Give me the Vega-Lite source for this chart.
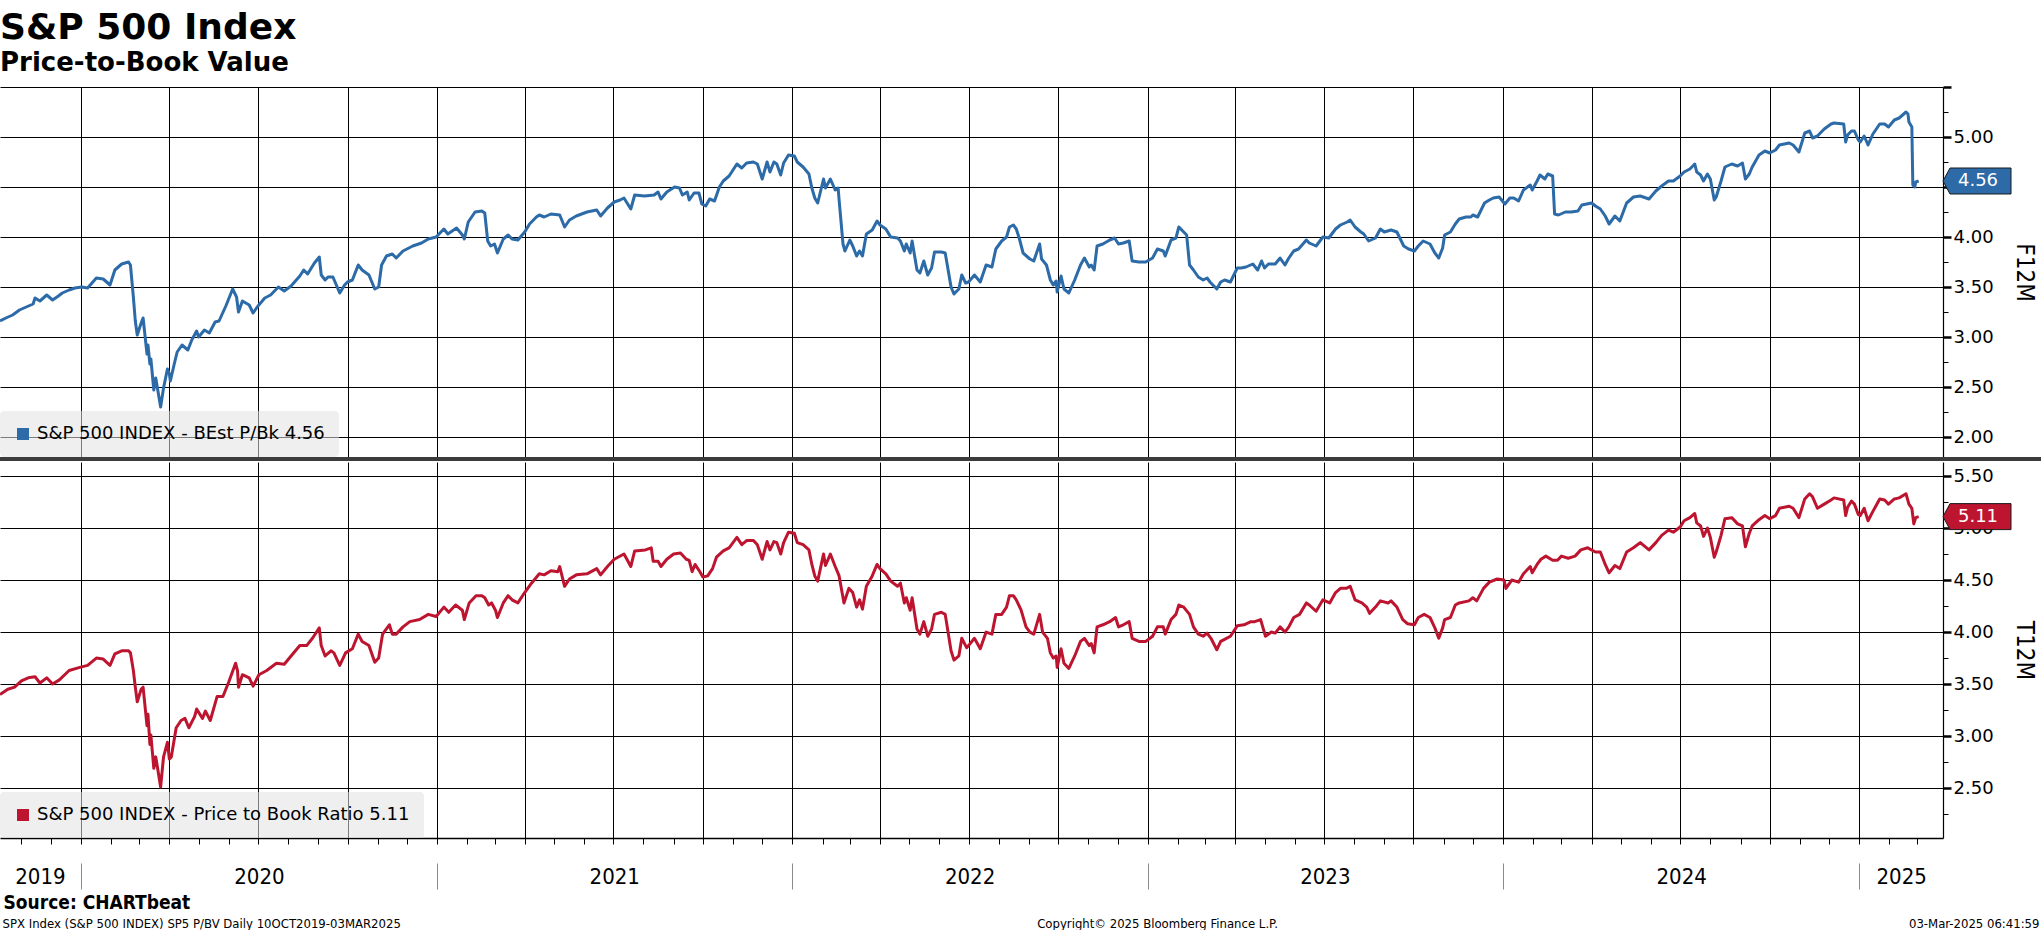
{
  "$schema": "https://vega.github.io/schema/vega-lite/v6.json",
  "background": "white",
  "padding": {"left": 0, "top": 9, "right": 0, "bottom": 0},
  "title": {
    "text": "S&P 500 Index",
    "subtitle": "Price-to-Book Value",
    "anchor": "start",
    "font": "DejaVu Sans",
    "fontSize": 36,
    "fontWeight": "bold",
    "color": "#000000",
    "subtitleFont": "DejaVu Sans",
    "subtitleFontSize": 26,
    "subtitleFontWeight": "bold",
    "subtitleColor": "#000000",
    "subtitlePadding": 3,
    "offset": 9
  },
  "datasets": {
    "pb": [
      {"date":"2019-10-10","value":3.16},{"date":"2019-10-16","value":3.19},{"date":"2019-10-23","value":3.22},{"date":"2019-10-30","value":3.27},{"date":"2019-11-06","value":3.30},{"date":"2019-11-13","value":3.33},{"date":"2019-11-15","value":3.39},{"date":"2019-11-20","value":3.36},{"date":"2019-11-27","value":3.42},{"date":"2019-12-03","value":3.37},{"date":"2019-12-09","value":3.41},{"date":"2019-12-13","value":3.44},{"date":"2019-12-20","value":3.47},{"date":"2019-12-26","value":3.49},
      {"date":"2020-01-02","value":3.50},{"date":"2020-01-08","value":3.49},{"date":"2020-01-17","value":3.59},{"date":"2020-01-24","value":3.58},{"date":"2020-01-31","value":3.52},{"date":"2020-02-05","value":3.67},{"date":"2020-02-12","value":3.73},{"date":"2020-02-19","value":3.75},{"date":"2020-02-21","value":3.72},{"date":"2020-02-24","value":3.40},{"date":"2020-02-26","value":3.16},{"date":"2020-02-28","value":3.02},{"date":"2020-03-03","value":3.14},{"date":"2020-03-05","value":3.19},{"date":"2020-03-09","value":2.83},{"date":"2020-03-10","value":2.92},{"date":"2020-03-12","value":2.73},{"date":"2020-03-13","value":2.78},{"date":"2020-03-16","value":2.47},{"date":"2020-03-18","value":2.59},{"date":"2020-03-23","value":2.30},{"date":"2020-03-26","value":2.49},{"date":"2020-03-30","value":2.68},{"date":"2020-04-01","value":2.63},{"date":"2020-04-02","value":2.56},{"date":"2020-04-06","value":2.73},{"date":"2020-04-09","value":2.85},{"date":"2020-04-14","value":2.92},{"date":"2020-04-20","value":2.87},{"date":"2020-04-24","value":2.97},{"date":"2020-04-29","value":3.06},{"date":"2020-05-01","value":3.00},{"date":"2020-05-07","value":3.07},{"date":"2020-05-12","value":3.04},{"date":"2020-05-18","value":3.15},{"date":"2020-05-22","value":3.16},{"date":"2020-05-29","value":3.31},{"date":"2020-06-05","value":3.48},{"date":"2020-06-09","value":3.40},{"date":"2020-06-11","value":3.25},{"date":"2020-06-15","value":3.36},{"date":"2020-06-22","value":3.32},{"date":"2020-06-26","value":3.24},{"date":"2020-07-01","value":3.31},{"date":"2020-07-08","value":3.39},{"date":"2020-07-14","value":3.42},{"date":"2020-07-22","value":3.50},{"date":"2020-07-28","value":3.46},{"date":"2020-08-04","value":3.51},{"date":"2020-08-13","value":3.61},{"date":"2020-08-17","value":3.67},{"date":"2020-08-21","value":3.63},{"date":"2020-08-28","value":3.74},{"date":"2020-09-02","value":3.80},{"date":"2020-09-04","value":3.62},{"date":"2020-09-08","value":3.57},{"date":"2020-09-11","value":3.60},{"date":"2020-09-16","value":3.60},{"date":"2020-09-23","value":3.44},{"date":"2020-09-28","value":3.52},{"date":"2020-10-01","value":3.55},{"date":"2020-10-06","value":3.57},{"date":"2020-10-12","value":3.72},{"date":"2020-10-16","value":3.67},{"date":"2020-10-23","value":3.62},{"date":"2020-10-29","value":3.48},{"date":"2020-11-02","value":3.50},{"date":"2020-11-05","value":3.72},{"date":"2020-11-10","value":3.81},{"date":"2020-11-16","value":3.83},{"date":"2020-11-20","value":3.79},{"date":"2020-11-27","value":3.86},{"date":"2020-12-07","value":3.91},{"date":"2020-12-16","value":3.94},{"date":"2020-12-23","value":3.98},{"date":"2020-12-31","value":4.00},
      {"date":"2021-01-08","value":4.08},{"date":"2021-01-12","value":4.03},{"date":"2021-01-21","value":4.09},{"date":"2021-01-27","value":4.02},{"date":"2021-01-29","value":3.98},{"date":"2021-02-02","value":4.15},{"date":"2021-02-09","value":4.25},{"date":"2021-02-16","value":4.26},{"date":"2021-02-19","value":4.24},{"date":"2021-02-22","value":3.96},{"date":"2021-02-25","value":3.91},{"date":"2021-03-01","value":3.93},{"date":"2021-03-04","value":3.84},{"date":"2021-03-10","value":3.98},{"date":"2021-03-15","value":4.02},{"date":"2021-03-19","value":3.98},{"date":"2021-03-25","value":3.97},{"date":"2021-04-01","value":4.05},{"date":"2021-04-06","value":4.13},{"date":"2021-04-13","value":4.20},{"date":"2021-04-16","value":4.22},{"date":"2021-04-21","value":4.20},{"date":"2021-04-28","value":4.23},{"date":"2021-05-07","value":4.22},{"date":"2021-05-12","value":4.10},{"date":"2021-05-17","value":4.17},{"date":"2021-05-24","value":4.21},{"date":"2021-06-04","value":4.25},{"date":"2021-06-14","value":4.27},{"date":"2021-06-18","value":4.21},{"date":"2021-06-25","value":4.29},{"date":"2021-07-02","value":4.35},{"date":"2021-07-08","value":4.37},{"date":"2021-07-12","value":4.39},{"date":"2021-07-19","value":4.28},{"date":"2021-07-23","value":4.42},{"date":"2021-08-02","value":4.41},{"date":"2021-08-12","value":4.42},{"date":"2021-08-16","value":4.45},{"date":"2021-08-19","value":4.38},{"date":"2021-08-25","value":4.45},{"date":"2021-09-02","value":4.50},{"date":"2021-09-07","value":4.49},{"date":"2021-09-10","value":4.42},{"date":"2021-09-15","value":4.45},{"date":"2021-09-17","value":4.37},{"date":"2021-09-22","value":4.44},{"date":"2021-09-27","value":4.44},{"date":"2021-09-30","value":4.33},{"date":"2021-10-04","value":4.31},{"date":"2021-10-08","value":4.38},{"date":"2021-10-13","value":4.36},{"date":"2021-10-18","value":4.50},{"date":"2021-10-22","value":4.56},{"date":"2021-10-28","value":4.61},{"date":"2021-11-05","value":4.73},{"date":"2021-11-10","value":4.69},{"date":"2021-11-15","value":4.74},{"date":"2021-11-22","value":4.75},{"date":"2021-11-26","value":4.73},{"date":"2021-12-01","value":4.58},{"date":"2021-12-06","value":4.75},{"date":"2021-12-09","value":4.65},{"date":"2021-12-13","value":4.75},{"date":"2021-12-16","value":4.73},{"date":"2021-12-20","value":4.62},{"date":"2021-12-23","value":4.74},{"date":"2021-12-28","value":4.82},
      {"date":"2022-01-03","value":4.81},{"date":"2022-01-06","value":4.75},{"date":"2022-01-12","value":4.70},{"date":"2022-01-18","value":4.63},{"date":"2022-01-21","value":4.49},{"date":"2022-01-24","value":4.39},{"date":"2022-01-27","value":4.34},{"date":"2022-02-02","value":4.58},{"date":"2022-02-04","value":4.49},{"date":"2022-02-09","value":4.58},{"date":"2022-02-14","value":4.47},{"date":"2022-02-17","value":4.49},{"date":"2022-02-18","value":4.37},{"date":"2022-02-22","value":3.93},{"date":"2022-02-24","value":3.86},{"date":"2022-03-01","value":3.97},{"date":"2022-03-04","value":3.91},{"date":"2022-03-08","value":3.81},{"date":"2022-03-11","value":3.86},{"date":"2022-03-14","value":3.81},{"date":"2022-03-18","value":4.03},{"date":"2022-03-24","value":4.07},{"date":"2022-03-29","value":4.16},{"date":"2022-04-01","value":4.12},{"date":"2022-04-07","value":4.08},{"date":"2022-04-12","value":4.00},{"date":"2022-04-19","value":3.99},{"date":"2022-04-22","value":3.96},{"date":"2022-04-26","value":3.86},{"date":"2022-04-28","value":3.93},{"date":"2022-05-02","value":3.84},{"date":"2022-05-04","value":3.96},{"date":"2022-05-09","value":3.67},{"date":"2022-05-12","value":3.64},{"date":"2022-05-16","value":3.76},{"date":"2022-05-20","value":3.62},{"date":"2022-05-24","value":3.69},{"date":"2022-05-27","value":3.85},{"date":"2022-06-03","value":3.85},{"date":"2022-06-07","value":3.84},{"date":"2022-06-13","value":3.50},{"date":"2022-06-16","value":3.43},{"date":"2022-06-21","value":3.48},{"date":"2022-06-24","value":3.62},{"date":"2022-06-28","value":3.54},{"date":"2022-07-01","value":3.55},{"date":"2022-07-07","value":3.62},{"date":"2022-07-13","value":3.55},{"date":"2022-07-19","value":3.72},{"date":"2022-07-25","value":3.70},{"date":"2022-07-29","value":3.88},{"date":"2022-08-04","value":3.96},{"date":"2022-08-09","value":4.00},{"date":"2022-08-12","value":4.10},{"date":"2022-08-16","value":4.12},{"date":"2022-08-19","value":4.08},{"date":"2022-08-22","value":3.99},{"date":"2022-08-26","value":3.84},{"date":"2022-09-02","value":3.78},{"date":"2022-09-06","value":3.76},{"date":"2022-09-12","value":3.93},{"date":"2022-09-14","value":3.78},{"date":"2022-09-19","value":3.72},{"date":"2022-09-23","value":3.57},{"date":"2022-09-26","value":3.52},{"date":"2022-09-29","value":3.56},{"date":"2022-09-30","value":3.45},{"date":"2022-10-04","value":3.61},{"date":"2022-10-07","value":3.48},{"date":"2022-10-12","value":3.44},{"date":"2022-10-18","value":3.57},{"date":"2022-10-24","value":3.72},{"date":"2022-10-28","value":3.79},{"date":"2022-11-02","value":3.70},{"date":"2022-11-04","value":3.72},{"date":"2022-11-07","value":3.67},{"date":"2022-11-10","value":3.91},{"date":"2022-11-16","value":3.93},{"date":"2022-11-23","value":3.97},{"date":"2022-11-28","value":3.99},{"date":"2022-12-02","value":3.93},{"date":"2022-12-07","value":3.94},{"date":"2022-12-13","value":3.96},{"date":"2022-12-16","value":3.76},{"date":"2022-12-23","value":3.75},{"date":"2022-12-30","value":3.75},
      {"date":"2023-01-06","value":3.79},{"date":"2023-01-11","value":3.88},{"date":"2023-01-17","value":3.86},{"date":"2023-01-19","value":3.81},{"date":"2023-01-25","value":3.97},{"date":"2023-01-30","value":3.99},{"date":"2023-02-02","value":4.10},{"date":"2023-02-07","value":4.05},{"date":"2023-02-10","value":4.02},{"date":"2023-02-13","value":3.72},{"date":"2023-02-17","value":3.67},{"date":"2023-02-22","value":3.60},{"date":"2023-02-27","value":3.57},{"date":"2023-03-03","value":3.59},{"date":"2023-03-06","value":3.55},{"date":"2023-03-13","value":3.48},{"date":"2023-03-17","value":3.55},{"date":"2023-03-21","value":3.57},{"date":"2023-03-27","value":3.55},{"date":"2023-04-03","value":3.69},{"date":"2023-04-07","value":3.69},{"date":"2023-04-12","value":3.70},{"date":"2023-04-19","value":3.73},{"date":"2023-04-24","value":3.67},{"date":"2023-04-28","value":3.76},{"date":"2023-05-01","value":3.69},{"date":"2023-05-05","value":3.73},{"date":"2023-05-12","value":3.73},{"date":"2023-05-17","value":3.79},{"date":"2023-05-22","value":3.72},{"date":"2023-05-26","value":3.79},{"date":"2023-05-31","value":3.86},{"date":"2023-06-05","value":3.88},{"date":"2023-06-13","value":3.97},{"date":"2023-06-16","value":3.94},{"date":"2023-06-23","value":3.91},{"date":"2023-06-30","value":4.00},{"date":"2023-07-06","value":3.99},{"date":"2023-07-13","value":4.08},{"date":"2023-07-18","value":4.12},{"date":"2023-07-25","value":4.15},{"date":"2023-07-28","value":4.17},{"date":"2023-08-02","value":4.10},{"date":"2023-08-08","value":4.05},{"date":"2023-08-11","value":4.03},{"date":"2023-08-16","value":3.96},{"date":"2023-08-23","value":3.99},{"date":"2023-08-28","value":4.08},{"date":"2023-09-01","value":4.05},{"date":"2023-09-08","value":4.07},{"date":"2023-09-14","value":4.05},{"date":"2023-09-21","value":3.91},{"date":"2023-09-26","value":3.88},{"date":"2023-10-02","value":3.86},{"date":"2023-10-06","value":3.91},{"date":"2023-10-11","value":3.96},{"date":"2023-10-18","value":3.93},{"date":"2023-10-23","value":3.84},{"date":"2023-10-27","value":3.79},{"date":"2023-10-31","value":3.89},{"date":"2023-11-02","value":4.02},{"date":"2023-11-08","value":4.05},{"date":"2023-11-13","value":4.13},{"date":"2023-11-17","value":4.18},{"date":"2023-11-24","value":4.20},{"date":"2023-11-29","value":4.20},{"date":"2023-12-01","value":4.22},{"date":"2023-12-06","value":4.20},{"date":"2023-12-13","value":4.34},{"date":"2023-12-18","value":4.37},{"date":"2023-12-22","value":4.39},{"date":"2023-12-28","value":4.40},
      {"date":"2024-01-03","value":4.33},{"date":"2024-01-08","value":4.39},{"date":"2024-01-12","value":4.39},{"date":"2024-01-17","value":4.36},{"date":"2024-01-22","value":4.47},{"date":"2024-01-29","value":4.52},{"date":"2024-01-31","value":4.47},{"date":"2024-02-05","value":4.56},{"date":"2024-02-08","value":4.62},{"date":"2024-02-13","value":4.58},{"date":"2024-02-16","value":4.63},{"date":"2024-02-21","value":4.61},{"date":"2024-02-23","value":4.23},{"date":"2024-02-27","value":4.22},{"date":"2024-03-05","value":4.25},{"date":"2024-03-11","value":4.25},{"date":"2024-03-18","value":4.26},{"date":"2024-03-22","value":4.32},{"date":"2024-04-01","value":4.34},{"date":"2024-04-05","value":4.31},{"date":"2024-04-10","value":4.28},{"date":"2024-04-15","value":4.21},{"date":"2024-04-19","value":4.13},{"date":"2024-04-25","value":4.21},{"date":"2024-04-30","value":4.16},{"date":"2024-05-07","value":4.34},{"date":"2024-05-14","value":4.40},{"date":"2024-05-21","value":4.41},{"date":"2024-05-30","value":4.38},{"date":"2024-06-06","value":4.46},{"date":"2024-06-12","value":4.51},{"date":"2024-06-19","value":4.56},{"date":"2024-06-24","value":4.56},{"date":"2024-07-01","value":4.61},{"date":"2024-07-05","value":4.65},{"date":"2024-07-11","value":4.68},{"date":"2024-07-16","value":4.73},{"date":"2024-07-18","value":4.65},{"date":"2024-07-22","value":4.62},{"date":"2024-07-25","value":4.56},{"date":"2024-07-29","value":4.63},{"date":"2024-08-01","value":4.58},{"date":"2024-08-05","value":4.37},{"date":"2024-08-07","value":4.40},{"date":"2024-08-12","value":4.56},{"date":"2024-08-16","value":4.70},{"date":"2024-08-23","value":4.73},{"date":"2024-08-29","value":4.71},{"date":"2024-09-03","value":4.74},{"date":"2024-09-06","value":4.58},{"date":"2024-09-10","value":4.63},{"date":"2024-09-13","value":4.70},{"date":"2024-09-20","value":4.82},{"date":"2024-09-26","value":4.86},{"date":"2024-10-01","value":4.84},{"date":"2024-10-07","value":4.87},{"date":"2024-10-11","value":4.92},{"date":"2024-10-21","value":4.94},{"date":"2024-10-25","value":4.92},{"date":"2024-10-31","value":4.85},{"date":"2024-11-06","value":5.04},{"date":"2024-11-11","value":5.06},{"date":"2024-11-14","value":4.99},{"date":"2024-11-19","value":5.01},{"date":"2024-11-26","value":5.08},{"date":"2024-12-03","value":5.13},{"date":"2024-12-06","value":5.14},{"date":"2024-12-16","value":5.13},{"date":"2024-12-18","value":4.95},{"date":"2024-12-20","value":5.02},{"date":"2024-12-24","value":5.06},{"date":"2024-12-27","value":5.06},{"date":"2024-12-31","value":4.97},
      {"date":"2025-01-02","value":4.95},{"date":"2025-01-06","value":5.01},{"date":"2025-01-10","value":4.92},{"date":"2025-01-15","value":5.03},{"date":"2025-01-22","value":5.13},{"date":"2025-01-27","value":5.13},{"date":"2025-01-31","value":5.10},{"date":"2025-02-06","value":5.17},{"date":"2025-02-11","value":5.19},{"date":"2025-02-18","value":5.25},{"date":"2025-02-20","value":5.23},{"date":"2025-02-21","value":5.15},{"date":"2025-02-24","value":5.10},{"date":"2025-02-25","value":4.52},{"date":"2025-02-26","value":4.51},{"date":"2025-02-27","value":4.50},{"date":"2025-02-28","value":4.55},{"date":"2025-03-03","value":4.56}
    ],
    "ptb": [
      {"date":"2019-10-10","value":3.40},{"date":"2019-10-18","value":3.45},{"date":"2019-10-25","value":3.47},{"date":"2019-11-01","value":3.53},{"date":"2019-11-08","value":3.56},{"date":"2019-11-15","value":3.57},{"date":"2019-11-20","value":3.51},{"date":"2019-11-27","value":3.56},{"date":"2019-12-03","value":3.50},{"date":"2019-12-10","value":3.54},{"date":"2019-12-20","value":3.63},{"date":"2019-12-31","value":3.66},
      {"date":"2020-01-08","value":3.68},{"date":"2020-01-17","value":3.75},{"date":"2020-01-24","value":3.74},{"date":"2020-01-31","value":3.68},{"date":"2020-02-05","value":3.79},{"date":"2020-02-12","value":3.82},{"date":"2020-02-19","value":3.82},{"date":"2020-02-21","value":3.80},{"date":"2020-02-24","value":3.63},{"date":"2020-02-26","value":3.47},{"date":"2020-02-28","value":3.33},{"date":"2020-03-03","value":3.45},{"date":"2020-03-05","value":3.47},{"date":"2020-03-09","value":3.10},{"date":"2020-03-10","value":3.21},{"date":"2020-03-12","value":2.92},{"date":"2020-03-13","value":3.01},{"date":"2020-03-16","value":2.69},{"date":"2020-03-18","value":2.80},{"date":"2020-03-23","value":2.51},{"date":"2020-03-26","value":2.80},{"date":"2020-03-30","value":2.94},{"date":"2020-04-01","value":2.78},{"date":"2020-04-03","value":2.80},{"date":"2020-04-08","value":3.08},{"date":"2020-04-13","value":3.15},{"date":"2020-04-17","value":3.17},{"date":"2020-04-21","value":3.08},{"date":"2020-04-27","value":3.19},{"date":"2020-04-29","value":3.26},{"date":"2020-05-05","value":3.17},{"date":"2020-05-08","value":3.24},{"date":"2020-05-13","value":3.15},{"date":"2020-05-20","value":3.38},{"date":"2020-05-26","value":3.38},{"date":"2020-06-01","value":3.52},{"date":"2020-06-08","value":3.70},{"date":"2020-06-10","value":3.63},{"date":"2020-06-11","value":3.47},{"date":"2020-06-15","value":3.59},{"date":"2020-06-22","value":3.56},{"date":"2020-06-26","value":3.48},{"date":"2020-07-02","value":3.59},{"date":"2020-07-10","value":3.63},{"date":"2020-07-20","value":3.70},{"date":"2020-07-28","value":3.69},{"date":"2020-08-04","value":3.77},{"date":"2020-08-13","value":3.87},{"date":"2020-08-20","value":3.87},{"date":"2020-08-26","value":3.94},{"date":"2020-09-02","value":4.04},{"date":"2020-09-04","value":3.87},{"date":"2020-09-08","value":3.77},{"date":"2020-09-14","value":3.82},{"date":"2020-09-17","value":3.80},{"date":"2020-09-23","value":3.68},{"date":"2020-09-29","value":3.80},{"date":"2020-10-06","value":3.84},{"date":"2020-10-12","value":3.98},{"date":"2020-10-16","value":3.91},{"date":"2020-10-23","value":3.87},{"date":"2020-10-29","value":3.71},{"date":"2020-11-02","value":3.75},{"date":"2020-11-06","value":3.98},{"date":"2020-11-13","value":4.07},{"date":"2020-11-16","value":3.98},{"date":"2020-11-20","value":3.98},{"date":"2020-11-27","value":4.05},{"date":"2020-12-04","value":4.10},{"date":"2020-12-14","value":4.12},{"date":"2020-12-23","value":4.17},{"date":"2020-12-31","value":4.15},
      {"date":"2021-01-08","value":4.24},{"date":"2021-01-13","value":4.19},{"date":"2021-01-20","value":4.26},{"date":"2021-01-27","value":4.21},{"date":"2021-01-29","value":4.12},{"date":"2021-02-03","value":4.28},{"date":"2021-02-10","value":4.35},{"date":"2021-02-16","value":4.35},{"date":"2021-02-19","value":4.33},{"date":"2021-02-23","value":4.26},{"date":"2021-02-26","value":4.28},{"date":"2021-03-02","value":4.21},{"date":"2021-03-04","value":4.14},{"date":"2021-03-10","value":4.28},{"date":"2021-03-15","value":4.35},{"date":"2021-03-19","value":4.31},{"date":"2021-03-25","value":4.28},{"date":"2021-04-01","value":4.38},{"date":"2021-04-08","value":4.47},{"date":"2021-04-16","value":4.56},{"date":"2021-04-21","value":4.55},{"date":"2021-04-28","value":4.59},{"date":"2021-05-05","value":4.58},{"date":"2021-05-07","value":4.63},{"date":"2021-05-12","value":4.44},{"date":"2021-05-17","value":4.51},{"date":"2021-05-24","value":4.55},{"date":"2021-06-04","value":4.56},{"date":"2021-06-14","value":4.61},{"date":"2021-06-18","value":4.55},{"date":"2021-06-25","value":4.63},{"date":"2021-07-02","value":4.70},{"date":"2021-07-12","value":4.75},{"date":"2021-07-15","value":4.70},{"date":"2021-07-19","value":4.63},{"date":"2021-07-23","value":4.78},{"date":"2021-08-03","value":4.79},{"date":"2021-08-09","value":4.81},{"date":"2021-08-11","value":4.68},{"date":"2021-08-16","value":4.68},{"date":"2021-08-19","value":4.63},{"date":"2021-08-25","value":4.70},{"date":"2021-09-01","value":4.75},{"date":"2021-09-08","value":4.76},{"date":"2021-09-14","value":4.70},{"date":"2021-09-17","value":4.69},{"date":"2021-09-20","value":4.58},{"date":"2021-09-23","value":4.65},{"date":"2021-09-28","value":4.58},{"date":"2021-10-01","value":4.53},{"date":"2021-10-06","value":4.54},{"date":"2021-10-11","value":4.61},{"date":"2021-10-15","value":4.72},{"date":"2021-10-22","value":4.78},{"date":"2021-10-28","value":4.81},{"date":"2021-11-05","value":4.91},{"date":"2021-11-10","value":4.84},{"date":"2021-11-15","value":4.88},{"date":"2021-11-22","value":4.88},{"date":"2021-11-26","value":4.84},{"date":"2021-12-01","value":4.70},{"date":"2021-12-06","value":4.87},{"date":"2021-12-09","value":4.79},{"date":"2021-12-13","value":4.87},{"date":"2021-12-16","value":4.86},{"date":"2021-12-20","value":4.75},{"date":"2021-12-23","value":4.86},{"date":"2021-12-28","value":4.96},
      {"date":"2022-01-03","value":4.95},{"date":"2022-01-06","value":4.86},{"date":"2022-01-12","value":4.84},{"date":"2022-01-18","value":4.79},{"date":"2022-01-21","value":4.65},{"date":"2022-01-24","value":4.54},{"date":"2022-01-27","value":4.49},{"date":"2022-02-02","value":4.75},{"date":"2022-02-04","value":4.64},{"date":"2022-02-09","value":4.75},{"date":"2022-02-14","value":4.63},{"date":"2022-02-18","value":4.54},{"date":"2022-02-23","value":4.28},{"date":"2022-02-28","value":4.42},{"date":"2022-03-04","value":4.38},{"date":"2022-03-08","value":4.24},{"date":"2022-03-11","value":4.31},{"date":"2022-03-14","value":4.22},{"date":"2022-03-18","value":4.44},{"date":"2022-03-24","value":4.54},{"date":"2022-03-29","value":4.65},{"date":"2022-04-01","value":4.61},{"date":"2022-04-07","value":4.56},{"date":"2022-04-12","value":4.49},{"date":"2022-04-19","value":4.44},{"date":"2022-04-22","value":4.47},{"date":"2022-04-26","value":4.28},{"date":"2022-04-28","value":4.33},{"date":"2022-05-02","value":4.21},{"date":"2022-05-04","value":4.33},{"date":"2022-05-09","value":4.03},{"date":"2022-05-12","value":3.98},{"date":"2022-05-16","value":4.10},{"date":"2022-05-20","value":3.96},{"date":"2022-05-24","value":4.03},{"date":"2022-05-27","value":4.17},{"date":"2022-06-03","value":4.19},{"date":"2022-06-07","value":4.17},{"date":"2022-06-13","value":3.82},{"date":"2022-06-16","value":3.73},{"date":"2022-06-21","value":3.77},{"date":"2022-06-24","value":3.94},{"date":"2022-06-29","value":3.85},{"date":"2022-07-01","value":3.87},{"date":"2022-07-07","value":3.94},{"date":"2022-07-13","value":3.84},{"date":"2022-07-19","value":4.00},{"date":"2022-07-25","value":3.98},{"date":"2022-07-29","value":4.17},{"date":"2022-08-04","value":4.17},{"date":"2022-08-09","value":4.24},{"date":"2022-08-12","value":4.35},{"date":"2022-08-16","value":4.35},{"date":"2022-08-19","value":4.31},{"date":"2022-08-24","value":4.21},{"date":"2022-08-29","value":4.05},{"date":"2022-09-02","value":4.00},{"date":"2022-09-06","value":3.98},{"date":"2022-09-12","value":4.17},{"date":"2022-09-15","value":4.00},{"date":"2022-09-20","value":3.94},{"date":"2022-09-23","value":3.80},{"date":"2022-09-26","value":3.75},{"date":"2022-09-29","value":3.77},{"date":"2022-09-30","value":3.66},{"date":"2022-10-04","value":3.84},{"date":"2022-10-07","value":3.70},{"date":"2022-10-12","value":3.65},{"date":"2022-10-18","value":3.77},{"date":"2022-10-24","value":3.91},{"date":"2022-10-28","value":3.94},{"date":"2022-11-02","value":3.87},{"date":"2022-11-04","value":3.89},{"date":"2022-11-07","value":3.80},{"date":"2022-11-10","value":4.05},{"date":"2022-11-16","value":4.07},{"date":"2022-11-23","value":4.10},{"date":"2022-11-29","value":4.14},{"date":"2022-12-02","value":4.05},{"date":"2022-12-07","value":4.07},{"date":"2022-12-13","value":4.10},{"date":"2022-12-16","value":3.94},{"date":"2022-12-23","value":3.91},{"date":"2022-12-30","value":3.91},
      {"date":"2023-01-06","value":3.96},{"date":"2023-01-11","value":4.05},{"date":"2023-01-17","value":4.05},{"date":"2023-01-19","value":3.98},{"date":"2023-01-25","value":4.12},{"date":"2023-01-30","value":4.17},{"date":"2023-02-02","value":4.26},{"date":"2023-02-07","value":4.24},{"date":"2023-02-13","value":4.17},{"date":"2023-02-17","value":4.05},{"date":"2023-02-22","value":3.98},{"date":"2023-02-27","value":3.96},{"date":"2023-03-03","value":3.99},{"date":"2023-03-07","value":3.94},{"date":"2023-03-13","value":3.83},{"date":"2023-03-17","value":3.91},{"date":"2023-03-21","value":3.93},{"date":"2023-03-27","value":3.96},{"date":"2023-04-03","value":4.06},{"date":"2023-04-10","value":4.07},{"date":"2023-04-17","value":4.10},{"date":"2023-04-21","value":4.10},{"date":"2023-04-27","value":4.12},{"date":"2023-05-02","value":3.96},{"date":"2023-05-08","value":4.00},{"date":"2023-05-12","value":3.99},{"date":"2023-05-17","value":4.05},{"date":"2023-05-22","value":4.00},{"date":"2023-05-26","value":4.05},{"date":"2023-05-31","value":4.14},{"date":"2023-06-06","value":4.17},{"date":"2023-06-13","value":4.28},{"date":"2023-06-16","value":4.26},{"date":"2023-06-23","value":4.20},{"date":"2023-06-30","value":4.31},{"date":"2023-07-07","value":4.28},{"date":"2023-07-13","value":4.38},{"date":"2023-07-18","value":4.42},{"date":"2023-07-24","value":4.42},{"date":"2023-07-28","value":4.44},{"date":"2023-08-02","value":4.31},{"date":"2023-08-09","value":4.28},{"date":"2023-08-14","value":4.24},{"date":"2023-08-17","value":4.18},{"date":"2023-08-23","value":4.24},{"date":"2023-08-28","value":4.30},{"date":"2023-09-05","value":4.28},{"date":"2023-09-08","value":4.30},{"date":"2023-09-14","value":4.24},{"date":"2023-09-20","value":4.12},{"date":"2023-09-25","value":4.08},{"date":"2023-10-02","value":4.07},{"date":"2023-10-06","value":4.14},{"date":"2023-10-12","value":4.17},{"date":"2023-10-18","value":4.14},{"date":"2023-10-23","value":4.04},{"date":"2023-10-27","value":3.94},{"date":"2023-10-31","value":4.04},{"date":"2023-11-02","value":4.12},{"date":"2023-11-08","value":4.14},{"date":"2023-11-13","value":4.26},{"date":"2023-11-17","value":4.28},{"date":"2023-11-27","value":4.30},{"date":"2023-12-01","value":4.33},{"date":"2023-12-05","value":4.30},{"date":"2023-12-12","value":4.42},{"date":"2023-12-18","value":4.48},{"date":"2023-12-26","value":4.51},
      {"date":"2024-01-02","value":4.50},{"date":"2024-01-04","value":4.42},{"date":"2024-01-10","value":4.50},{"date":"2024-01-17","value":4.48},{"date":"2024-01-22","value":4.56},{"date":"2024-01-29","value":4.63},{"date":"2024-01-31","value":4.57},{"date":"2024-02-05","value":4.65},{"date":"2024-02-09","value":4.70},{"date":"2024-02-14","value":4.73},{"date":"2024-02-21","value":4.69},{"date":"2024-02-26","value":4.69},{"date":"2024-03-01","value":4.73},{"date":"2024-03-08","value":4.71},{"date":"2024-03-15","value":4.73},{"date":"2024-03-21","value":4.79},{"date":"2024-03-28","value":4.81},{"date":"2024-04-05","value":4.77},{"date":"2024-04-10","value":4.77},{"date":"2024-04-15","value":4.65},{"date":"2024-04-19","value":4.57},{"date":"2024-04-25","value":4.64},{"date":"2024-04-30","value":4.61},{"date":"2024-05-07","value":4.77},{"date":"2024-05-14","value":4.81},{"date":"2024-05-21","value":4.86},{"date":"2024-05-30","value":4.79},{"date":"2024-06-06","value":4.86},{"date":"2024-06-12","value":4.93},{"date":"2024-06-19","value":4.98},{"date":"2024-06-24","value":4.96},{"date":"2024-07-01","value":5.01},{"date":"2024-07-05","value":5.07},{"date":"2024-07-11","value":5.10},{"date":"2024-07-16","value":5.14},{"date":"2024-07-18","value":5.05},{"date":"2024-07-22","value":5.02},{"date":"2024-07-25","value":4.92},{"date":"2024-07-29","value":5.00},{"date":"2024-08-01","value":4.91},{"date":"2024-08-05","value":4.72},{"date":"2024-08-07","value":4.77},{"date":"2024-08-12","value":4.93},{"date":"2024-08-16","value":5.09},{"date":"2024-08-23","value":5.10},{"date":"2024-08-29","value":5.04},{"date":"2024-09-03","value":5.02},{"date":"2024-09-06","value":4.82},{"date":"2024-09-10","value":4.95},{"date":"2024-09-13","value":5.02},{"date":"2024-09-20","value":5.08},{"date":"2024-09-26","value":5.12},{"date":"2024-10-01","value":5.09},{"date":"2024-10-07","value":5.12},{"date":"2024-10-11","value":5.19},{"date":"2024-10-21","value":5.21},{"date":"2024-10-25","value":5.19},{"date":"2024-10-31","value":5.10},{"date":"2024-11-06","value":5.28},{"date":"2024-11-11","value":5.33},{"date":"2024-11-14","value":5.30},{"date":"2024-11-19","value":5.19},{"date":"2024-11-26","value":5.23},{"date":"2024-12-03","value":5.27},{"date":"2024-12-06","value":5.29},{"date":"2024-12-16","value":5.27},{"date":"2024-12-18","value":5.12},{"date":"2024-12-20","value":5.20},{"date":"2024-12-24","value":5.26},{"date":"2024-12-27","value":5.23},{"date":"2024-12-31","value":5.13},
      {"date":"2025-01-02","value":5.12},{"date":"2025-01-06","value":5.19},{"date":"2025-01-10","value":5.07},{"date":"2025-01-15","value":5.16},{"date":"2025-01-22","value":5.28},{"date":"2025-01-27","value":5.27},{"date":"2025-01-31","value":5.23},{"date":"2025-02-06","value":5.28},{"date":"2025-02-11","value":5.29},{"date":"2025-02-18","value":5.33},{"date":"2025-02-21","value":5.23},{"date":"2025-02-24","value":5.19},{"date":"2025-02-26","value":5.04},{"date":"2025-02-28","value":5.10},{"date":"2025-03-03","value":5.11}
    ]
  },
  "spacing": 0,
  "vconcat": [
    {
      "width": 1943,
      "height": 370,
      "data": {"name": "pb"},
      "layer": [
        {
          "mark": {"type": "line", "strokeWidth": 3, "strokeJoin": "round", "color": "#2c6aa8", "clip": true},
          "encoding": {
            "x": {"field": "date", "type": "temporal",
              "scale": {"type": "utc", "domain": [{"year": 2019, "month": 10, "date": 10, "utc": true}, {"year": 2025, "month": 3, "date": 28, "utc": true}]},
              "axis": {"orient": "bottom", "grid": true, "ticks": false, "labels": false, "domain": false, "title": null, "tickCount": {"interval": "month", "step": 3}}},
            "y": {"field": "value", "type": "quantitative",
              "scale": {"domain": [1.8, 5.5], "nice": false, "zero": false},
              "axis": {"orient": "right", "values": [2, 2.5, 3, 3.5, 4, 4.5, 5, 5.5], "labelExpr": "datum.value > 5.4 ? '' : format(datum.value, '.2f')", "tickSize": 8, "tickWidth": 2.5, "grid": true, "labelFontSize": 18, "labelPadding": 2, "domain": true, "title": "F12M", "titleFont": "'DejaVu Sans Condensed', 'DejaVu Sans', sans-serif", "titleFontSize": 24, "titleFontWeight": "normal", "titlePadding": 18}},
            "color": {"datum": "S&P 500 INDEX - BEst P/Bk 4.56", "type": "nominal",
              "scale": {"range": ["#2c6aa8"]},
              "legend": {"orient": "bottom-left", "offset": 0, "title": null, "symbolType": "square", "symbolSize": 144,
                "encode": {"symbols": {"update": {"fill": {"value": "#2c6aa8"}, "stroke": {"value": "#2c6aa8"}, "strokeWidth": {"value": 0}, "opacity": {"value": 1}}}}}}
          }
        },
        {
          "mark": {"type": "line", "strokeOpacity": 0},
          "encoding": {
            "x": {"field": "date", "type": "temporal", "axis": null},
            "y": {"field": "value", "type": "quantitative",
              "axis": {"orient": "right", "values": [2.25, 2.75, 3.25, 3.75, 4.25, 4.75, 5.25], "labels": false, "domain": false, "grid": false, "tickSize": 5, "tickWidth": 1, "title": null}}
          }
        },
        {
          "data": {"values": [{}]},
          "mark": {"type": "rect", "color": "#3c3c3c", "opacity": 1},
          "encoding": {
            "x": {"datum": {"year": 2019, "month": 10, "date": 10, "utc": true}, "type": "temporal", "axis": null},
            "x2": {"datum": {"year": 2025, "month": 7, "date": 7, "utc": true}},
            "y": {"datum": 1.8, "type": "quantitative", "axis": null},
            "y2": {"datum": 1.76}
          }
        },
        {
          "transform": [{"filter": {"field": "date", "equal": {"year": 2025, "month": 3, "date": 3, "utc": true}}}],
          "mark": {"type": "point", "shape": "M -1 0 L -0.794 -0.382 L 1 -0.382 L 1 0.382 L -0.794 0.382 Z", "size": 4624, "filled": true, "fill": "#2c6aa8", "stroke": "#1a1a1a", "strokeWidth": 1, "opacity": 1, "xOffset": 34},
          "encoding": {
            "x": {"datum": {"year": 2025, "month": 3, "date": 28, "utc": true}, "type": "temporal", "axis": null},
            "y": {"field": "value", "type": "quantitative", "axis": null}
          }
        },
        {
          "transform": [{"filter": {"field": "date", "equal": {"year": 2025, "month": 3, "date": 3, "utc": true}}}],
          "mark": {"type": "text", "color": "white", "fontSize": 18, "font": "DejaVu Sans", "align": "center", "baseline": "middle", "dx": 35},
          "encoding": {
            "x": {"datum": {"year": 2025, "month": 3, "date": 28, "utc": true}, "type": "temporal", "axis": null},
            "y": {"field": "value", "type": "quantitative", "axis": null},
            "text": {"field": "value", "type": "quantitative", "format": ".2f"}
          }
        }
      ],
      "resolve": {"axis": {"x": "independent", "y": "independent"}}
    },
    {
      "width": 1943,
      "height": 376,
      "data": {"name": "ptb"},
      "layer": [
        {
          "mark": {"type": "line", "strokeWidth": 3, "strokeJoin": "round", "color": "#bd1530", "clip": true},
          "encoding": {
            "x": {"field": "date", "type": "temporal",
              "scale": {"type": "utc", "domain": [{"year": 2019, "month": 10, "date": 10, "utc": true}, {"year": 2025, "month": 3, "date": 28, "utc": true}]},
              "axis": {"orient": "bottom", "grid": false, "labels": false, "domain": true, "domainWidth": 1.5, "ticks": true, "tickSize": 6, "tickCount": {"interval": "month", "step": 1},
                "title": "Source: CHARTbeat", "titleX": 3, "titleY": 70, "titleAlign": "left", "titleAnchor": "start", "titleBaseline": "alphabetic", "titleFont": "'DejaVu Sans Condensed', 'DejaVu Sans', sans-serif", "titleFontSize": 19, "titleFontWeight": "bold"}},
            "y": {"field": "value", "type": "quantitative",
              "scale": {"domain": [2.02, 5.635], "nice": false, "zero": false},
              "axis": {"orient": "right", "values": [2.5, 3, 3.5, 4, 4.5, 5, 5.5], "format": ".2f", "tickSize": 8, "tickWidth": 2.5, "grid": true, "labelFontSize": 18, "labelPadding": 2, "domain": true, "title": "T12M", "titleFont": "'DejaVu Sans Condensed', 'DejaVu Sans', sans-serif", "titleFontSize": 24, "titleFontWeight": "normal", "titlePadding": 18}},
            "color": {"datum": "S&P 500 INDEX - Price to Book Ratio 5.11", "type": "nominal",
              "scale": {"range": ["#bd1530"]},
              "legend": {"orient": "bottom-left", "offset": 0, "title": null, "symbolType": "square", "symbolSize": 144,
                "encode": {"symbols": {"update": {"fill": {"value": "#bd1530"}, "stroke": {"value": "#bd1530"}, "strokeWidth": {"value": 0}, "opacity": {"value": 1}}}}}}
          }
        },
        {
          "mark": {"type": "line", "strokeOpacity": 0},
          "encoding": {
            "x": {"field": "date", "type": "temporal",
              "axis": {"orient": "bottom", "grid": true, "ticks": false, "labels": false, "domain": false, "tickCount": {"interval": "month", "step": 3},
                "title": "Copyright\u00a9 2025 Bloomberg Finance L.P.", "titleX": 1157, "titleY": 89, "titleAlign": "center", "titleBaseline": "alphabetic", "titleFont": "'DejaVu Sans Condensed', 'DejaVu Sans', sans-serif", "titleFontSize": 13, "titleFontWeight": "normal"}},
            "y": {"field": "value", "type": "quantitative",
              "axis": {"orient": "right", "values": [2.25, 2.75, 3.25, 3.75, 4.25, 4.75, 5.25], "labels": false, "domain": false, "grid": false, "tickSize": 5, "tickWidth": 1, "title": null}}
          }
        },
        {
          "mark": {"type": "line", "strokeOpacity": 0},
          "encoding": {
            "x": {"field": "date", "type": "temporal",
              "axis": {"orient": "bottom", "grid": false, "ticks": true, "tickSize": 26, "tickColor": "#8a8a8a", "tickWidth": 1, "offset": 25, "labels": false, "domain": false, "tickCount": {"interval": "year", "step": 1},
                "title": "03-Mar-2025 06:41:59", "titleX": 2039, "titleY": 64, "titleAlign": "right", "titleBaseline": "alphabetic", "titleFont": "'DejaVu Sans Condensed', 'DejaVu Sans', sans-serif", "titleFontSize": 13, "titleFontWeight": "normal"}},
            "y": {"field": "value", "type": "quantitative", "axis": null}
          }
        },
        {
          "mark": {"type": "line", "strokeOpacity": 0},
          "encoding": {
            "x": {"field": "date", "type": "temporal",
              "axis": {"orient": "bottom", "grid": false, "ticks": false, "domain": false, "labels": true, "format": "%Y", "labelOverlap": false, "labelFlush": false,
                "values": [{"year": 2019, "month": 11, "date": 20, "utc": true}, {"year": 2020, "month": 7, "date": 2, "utc": true}, {"year": 2021, "month": 7, "date": 2, "utc": true}, {"year": 2022, "month": 7, "date": 2, "utc": true}, {"year": 2023, "month": 7, "date": 2, "utc": true}, {"year": 2024, "month": 7, "date": 2, "utc": true}, {"year": 2025, "month": 2, "date": 13, "utc": true}],
                "labelFont": "'DejaVu Sans Condensed', 'DejaVu Sans', sans-serif", "labelFontSize": 22, "labelPadding": 28,
                "title": "SPX Index (S&P 500 INDEX) SP5 P/BV  Daily 10OCT2019-03MAR2025", "titleX": 2, "titleY": 89, "titleAlign": "left", "titleBaseline": "alphabetic", "titleFont": "'DejaVu Sans Condensed', 'DejaVu Sans', sans-serif", "titleFontSize": 13, "titleFontWeight": "normal"}},
            "y": {"field": "value", "type": "quantitative", "axis": null}
          }
        },
        {
          "transform": [{"filter": {"field": "date", "equal": {"year": 2025, "month": 3, "date": 3, "utc": true}}}],
          "mark": {"type": "point", "shape": "M -1 0 L -0.794 -0.382 L 1 -0.382 L 1 0.382 L -0.794 0.382 Z", "size": 4624, "filled": true, "fill": "#bd1530", "stroke": "#1a1a1a", "strokeWidth": 1, "opacity": 1, "xOffset": 34},
          "encoding": {
            "x": {"datum": {"year": 2025, "month": 3, "date": 28, "utc": true}, "type": "temporal", "axis": null},
            "y": {"field": "value", "type": "quantitative", "axis": null}
          }
        },
        {
          "transform": [{"filter": {"field": "date", "equal": {"year": 2025, "month": 3, "date": 3, "utc": true}}}],
          "mark": {"type": "text", "color": "white", "fontSize": 18, "font": "DejaVu Sans", "align": "center", "baseline": "middle", "dx": 35},
          "encoding": {
            "x": {"datum": {"year": 2025, "month": 3, "date": 28, "utc": true}, "type": "temporal", "axis": null},
            "y": {"field": "value", "type": "quantitative", "axis": null},
            "text": {"field": "value", "type": "quantitative", "format": ".2f"}
          }
        }
      ],
      "resolve": {"axis": {"x": "independent", "y": "independent"}}
    }
  ],
  "resolve": {"scale": {"color": "independent", "x": "independent", "y": "independent"}, "legend": {"color": "independent"}},
  "config": {
    "view": {"stroke": null},
    "font": "DejaVu Sans",
    "axis": {"labelFont": "DejaVu Sans", "titleFont": "DejaVu Sans", "labelColor": "#000000", "titleColor": "#000000", "domainColor": "#000000", "tickColor": "#000000", "gridColor": "#000000", "gridOpacity": 1, "gridWidth": 1, "domainWidth": 1.2},
    "legend": {"labelFont": "DejaVu Sans", "labelFontSize": 18, "labelColor": "#000000", "labelLimit": 0, "padding": 14, "fillColor": "rgba(226,226,226,0.55)", "cornerRadius": 4, "labelOffset": 5, "symbolOpacity": 1}
  }
}
